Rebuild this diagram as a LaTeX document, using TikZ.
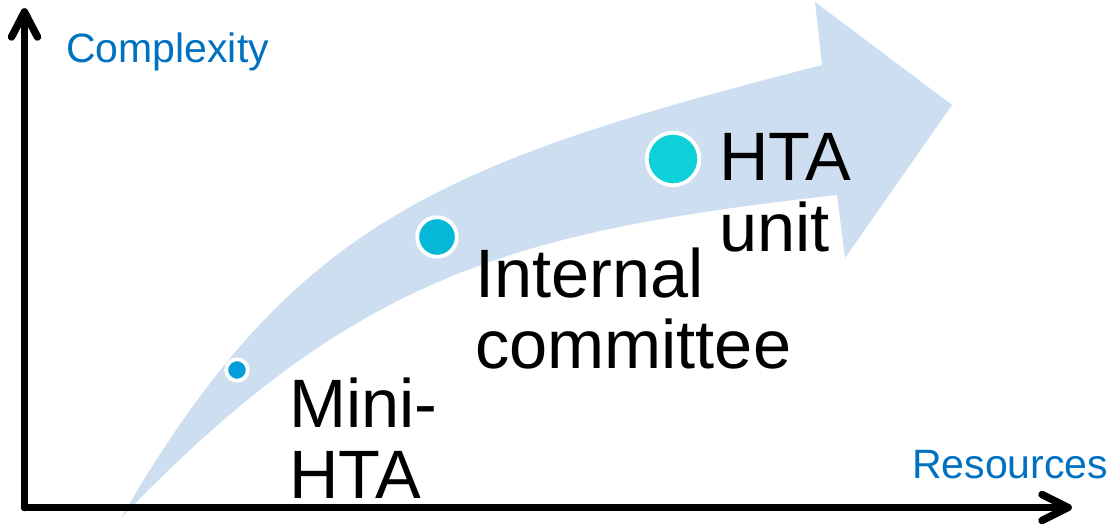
\documentclass[tikz,border=0pt]{standalone}
\usepackage{fontspec}
\setmainfont{Liberation Sans}
\usetikzlibrary{calc}
\definecolor{bandblue}{RGB}{204,222,240}
\definecolor{labelblue}{RGB}{0,112,192}
\definecolor{dotA}{RGB}{0,159,220}
\definecolor{dotB}{RGB}{5,184,216}
\definecolor{dotC}{RGB}{14,208,216}
\begin{document}
\begin{tikzpicture}[x=1pt,y=-1pt,
  dot/.style={circle,draw=white,line width=3.8pt,inner sep=0pt},
  big/.style={font=\fontsize{68.5}{71}\selectfont,align=left,anchor=north west,inner sep=0pt},
  axislabel/.style={font=\fontsize{41}{45}\selectfont,text=labelblue,anchor=base west,inner sep=0pt},
  axis/.style={line width=7.5pt,line cap=round,line join=round}]
\useasboundingbox (0,0) rectangle (1110,530);
% big curved arrow
\fill[bandblue] (121,518) .. controls (292,224) and (435,164) .. (822,65)
  -- (815,2) -- (952,105) -- (845,258) -- (837,195)
  .. controls (517,231) and (356,273) .. cycle;
% dots
\node[dot,fill=dotA,minimum size=21.5pt] (d1) at (237,370) {};
\node[dot,fill=dotB,minimum size=39.5pt] (d2) at (437,237) {};
\node[dot,fill=dotC,minimum size=52.5pt] (d3) at (673,159) {};
% labels
\node[big] (mini) at (289,378) {Mini-\\HTA};
\node[big] (internal) at (475,248) {Internal\\committee};
\node[big] (unit) at (719,133) {HTA\\unit};
\node[axislabel] (cx) at (66,62) {Complexity};
\node[axislabel] (rs) at (912,478) {Resources};
% axes
\coordinate (O) at (24.5,507.5);
\coordinate (ytip) at (24.5,12);
\coordinate (xtip) at (1068,507.5);
\draw[axis] (O) -- (ytip);
\draw[axis] ($(ytip)+(-13,25)$) -- (ytip) -- ($(ytip)+(13,25)$);
\draw[axis] (O) -- (xtip);
\draw[axis] ($(xtip)+(-26,-13)$) -- (xtip) -- ($(xtip)+(-26,13)$);
\end{tikzpicture}
\end{document}
